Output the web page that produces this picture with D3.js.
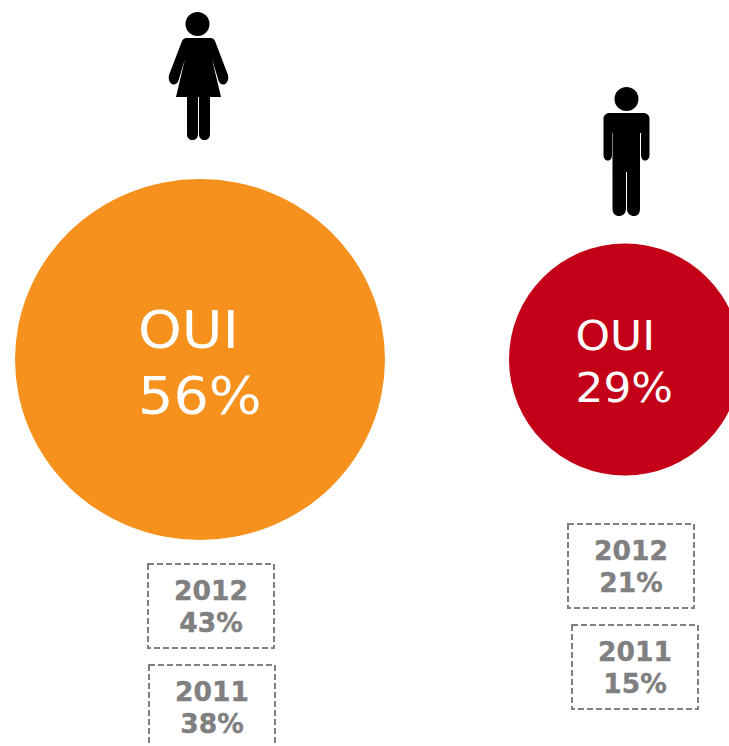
<!DOCTYPE html>
<html>
<head>
<meta charset="utf-8">
<script src="https://cdn.jsdelivr.net/npm/d3@7"></script>
<style>
html, body { margin:0; padding:0; background:#fff; overflow:hidden; }
svg { display:block; }
text { font-family:"DejaVu Sans", Verdana, sans-serif; }
</style>
</head>
<body>
<div id="graph"></div>
<script>
(function(){
"use strict"
var genders = ["femme", "homme"]
var answer = "OUI"
var yesValues = [56, 29]
var years = ["2012", "2011"]
var values2012 = [43, 21]
var values2011 = [38, 15]

var width = 729, height = 746
var svg = d3.select("#graph").append("svg").attr("width", width).attr("height", height)

var xCenter = d3.scaleOrdinal().domain(genders).range([200, 625])
// the source picture squashes the big circle a little
var radiusX = d3.scaleLinear().domain([29, 56]).range([116, 185])
var radiusY = d3.scaleLinear().domain([29, 56]).range([116, 180.5])
var fontSize = d3.scaleLinear().domain([29, 56]).range([41, 52])
var colors = d3.scaleOrdinal().domain(genders).range(["#f6911e", "#c30017"])
var centerY = 359.5

// silhouettes, drawn around their own axis
var icons = {
	femme: "M-11,26 C-13,26 -14.5,27 -15.5,29 L-28.5,63 C-29.5,68 -27.5,72 -24,72.5 C-21.5,72.5 -20,71 -19,68.5 L-12.5,47 L-21.5,85 L-10.5,85 L-10.5,122 C-10.5,126 -8,128 -5,128 C-2,128 0.5,126 0.5,122 L0.5,85 L1.5,85 L1.5,122 C1.5,126 4,128 7,128 C10,128 12.5,126 12.5,122 L12.5,85 L23.5,85 L14.5,47 L21,68.5 C22,71 23.5,72.5 26,72.5 C29.5,72 31.5,68 30.5,63 L17.5,29 C16.5,27 15,26 13,26 Z",
	homme: "M-17,26 C-20.5,26 -23,28.5 -23,32 L-23,68 C-23,71.5 -21,73.5 -18.5,73.5 C-16,73.5 -14.5,71.5 -14.5,68 L-14.5,46 L-14,46 L-14,122 C-14,126.5 -11,129 -7.5,129 C-4,129 -0.5,126.5 -0.5,122 L-0.5,85 L0.5,85 L0.5,122 C0.5,126.5 4,129 7.5,129 C11,129 13.5,126.5 13.5,122 L13.5,46 L14.5,46 L14.5,68 C14.5,71.5 16,73.5 18.5,73.5 C21,73.5 23,71.5 23,68 L23,32 C23,28.5 20.5,26 17,26 Z"
}
var iconPos = { femme: [197.5, 12], homme: [626.5, 87] }

var boxSize = { w: 126, h: 84 }
var boxPos = {
	femme: [[148, 564], [149, 665]],
	homme: [[568, 524], [572, 625]]
}
var textLeft = { femme: 138, homme: 575.5 }
var textBase = { femme: [348, 414], homme: [350, 402] }
var textStretch = 1.07

var groups = svg.selectAll("g.gender")
	.data(genders.map(function(g, i){
		return { gender: g, yes: yesValues[i], past: [values2012[i], values2011[i]] }
	}))
	.enter().append("g")
	.attr("class", "gender")

groups.append("ellipse")
	.attr("cx", function(d){ return xCenter(d.gender) })
	.attr("cy", centerY)
	.attr("rx", function(d){ return radiusX(d.yes) })
	.attr("ry", function(d){ return radiusY(d.yes) })
	.attr("fill", function(d){ return colors(d.gender) })

var icon = groups.append("g")
	.attr("transform", function(d){ return "translate(" + iconPos[d.gender] + ")" })
icon.append("circle")
	.attr("cx", 0)
	.attr("cy", 12)
	.attr("r", 12)
	.attr("fill", "#000")
icon.append("path")
	.attr("d", function(d){ return icons[d.gender] })
	.attr("fill", "#000")

function bigLabel(lineIndex, getText) {
	groups.append("text")
		.attr("fill", "#fff")
		.attr("font-size", function(d){ return fontSize(d.yes) })
		.attr("x", function(d){ return textLeft[d.gender] })
		.attr("y", function(d){ return textBase[d.gender][lineIndex] })
		.text(getText)
		.each(function(){
			// Verdana runs wider than DejaVu
			var len = this.getComputedTextLength() * textStretch
			d3.select(this).attr("textLength", len).attr("lengthAdjust", "spacingAndGlyphs")
		})
}
bigLabel(0, function(){ return answer })
bigLabel(1, function(d){ return d.yes + "%" })

var box = groups.selectAll("g.box")
	.data(function(d){
		return d.past.map(function(v, i){ return { year: years[i], value: v, pos: boxPos[d.gender][i] } })
	})
	.enter().append("g")
	.attr("class", "box")
	.attr("transform", function(d){ return "translate(" + d.pos + ")" })

box.append("rect")
	.attr("width", boxSize.w)
	.attr("height", boxSize.h)
	.attr("fill", "none")
	.attr("stroke", "#808080")
	.attr("stroke-width", 2)
	.attr("stroke-dasharray", "6 3")

var boxText = box.append("text")
	.attr("text-anchor", "middle")
	.attr("fill", "#808080")
	.attr("stroke", "#808080")
	.attr("stroke-width", 0.4)
	.attr("font-weight", "bold")
	.attr("font-size", 26.5)
boxText.append("tspan")
	.attr("x", boxSize.w / 2)
	.attr("y", 36)
	.text(function(d){ return d.year })
boxText.append("tspan")
	.attr("x", boxSize.w / 2)
	.attr("y", 68)
	.text(function(d){ return d.value + "%" })
}());
</script>
</body>
</html>
